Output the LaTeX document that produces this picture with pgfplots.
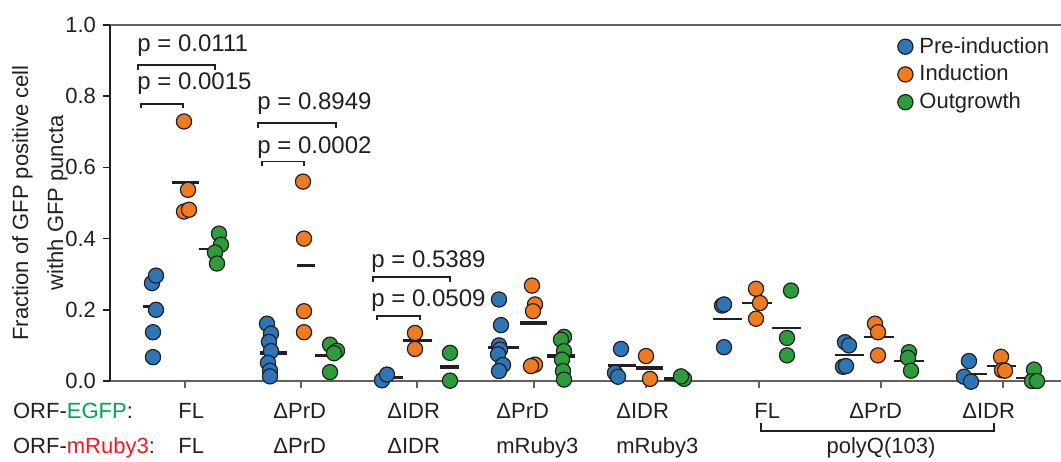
\documentclass[border=0pt]{standalone}
\usepackage{fontspec}
\setmainfont{Liberation Sans}
\usepackage{pgfplots}
\pgfplotsset{compat=1.18}
\definecolor{dark}{RGB}{35,31,32}
\definecolor{axgray}{RGB}{100,95,90}
\definecolor{cblue}{RGB}{46,117,182}
\definecolor{corange}{RGB}{240,122,32}
\definecolor{cgreen}{RGB}{46,156,60}
\definecolor{egfp}{RGB}{0,166,81}
\definecolor{mruby}{RGB}{237,28,36}
\newcommand{\fs}{\fontsize{11}{13}\selectfont}
\newcommand{\fp}{\fontsize{12}{14}\selectfont}
\begin{document}
\begin{tikzpicture}
\begin{axis}[
  at={(55pt,40pt)}, anchor=south west,
  scale only axis, width=475.5pt, height=178pt,
  xmin=110, xmax=1061, ymin=0, ymax=1,
  clip=false,
  axis x line=box, axis y line=left,
  x axis line style={draw=axgray, line width=1pt, -},
  y axis line style={draw=dark, line width=1pt, -},
  xtick={185,301,417,534,646,759,881,1003}, xticklabels={},
  xtick pos=left, ytick pos=left,
  ytick={0,0.2,0.4,0.6,0.8,1.0},
  tick align=outside,
  major tick length=3.5pt,
  xtick style={draw=axgray, line width=0.8pt},
  ytick style={draw=dark, line width=0.8pt},
  /pgf/number format/assume math mode=true,
  yticklabel style={/pgf/number format/.cd, fixed, fixed zerofill, precision=1},
  tick label style={font=\fs, color=dark},
  legend style={draw=none, fill=none, at={(axis cs:897,0.978)}, anchor=north west,
    font=\fs, text=dark, inner sep=0pt, row sep=0.4pt},
  legend cell align=left,
  dot/.style={only marks, mark=*, mark size=3.8pt,
    mark options={draw=dark, line width=0.6pt, fill=#1},
    legend image code/.code={\draw[##1] plot coordinates {(4pt,0pt)}; \path[draw=none, fill=none] (0pt,0pt) rectangle (9pt,0.1pt);}},
  mthick/.style={draw=dark, line width=1.7pt, forget plot},
  mthin/.style={draw=dark, line width=1pt, forget plot},
]
% ---- means (drawn below dots) ----
\addplot[mthick] coordinates {(143,0.21) (162,0.21)};
\addplot[mthick] coordinates {(172,0.557) (199,0.557)};
\addplot[mthin] coordinates {(199,0.372) (215,0.372)};
\addplot[mthick] coordinates {(260,0.079) (287,0.079)};
\addplot[mthick] coordinates {(297,0.325) (315,0.325)};
\addplot[mthick] coordinates {(315,0.072) (333,0.072)};
\addplot[mthick] coordinates {(387,0.009) (403,0.009)};
\addplot[mthick] coordinates {(403,0.113) (432,0.113)};
\addplot[mthick] coordinates {(440,0.039) (459,0.039)};
\addplot[mthick] coordinates {(488,0.094) (519,0.094)};
\addplot[mthick] coordinates {(520,0.163) (547,0.163)};
\addplot[mthick] coordinates {(547,0.070) (575,0.070)};
\addplot[mthick] coordinates {(608,0.043) (636,0.043)};
\addplot[mthick] coordinates {(636,0.037) (663,0.037)};
\addplot[mthick] coordinates {(664,0.006) (682,0.006)};
\addplot[mthin] coordinates {(713,0.174) (742,0.174)};
\addplot[mthin] coordinates {(742,0.218) (772,0.218)};
\addplot[mthin] coordinates {(772,0.148) (801,0.148)};
\addplot[mthin] coordinates {(835,0.072) (864,0.072)};
\addplot[mthin] coordinates {(864,0.124) (894,0.124)};
\addplot[mthin] coordinates {(894,0.057) (924,0.057)};
\addplot[mthin] coordinates {(958,0.020) (987,0.020)};
\addplot[mthin] coordinates {(987,0.041) (1016,0.041)};
\addplot[mthin] coordinates {(1016,0.008) (1035,0.008)};
% ---- group 1 ----
\addplot[dot=cblue] coordinates {(152,0.275) (156,0.296) (156,0.200) (153,0.137) (153,0.067)};
\addlegendentry{Pre-induction}
\addplot[dot=corange] coordinates {(184,0.729) (188,0.537) (184,0.476) (189,0.481)};
\addlegendentry{Induction}
\addplot[dot=cgreen] coordinates {(219,0.414) (221,0.383) (215,0.361) (217,0.330)};
\addlegendentry{Outgrowth}
% ---- group 2 ----
\addplot[dot=cblue, forget plot] coordinates {(267,0.161) (271,0.133) (269,0.110) (271,0.084) (268,0.051) (270,0.029) (270,0.013)};
\addplot[dot=corange, forget plot] coordinates {(303,0.560) (304,0.400) (304,0.196) (304,0.137)};
\addplot[dot=cgreen, forget plot] coordinates {(330,0.102) (337,0.085) (334,0.078) (330,0.025)};
% ---- group 3 ----
\addplot[dot=cblue, forget plot] coordinates {(382,0.002) (387,0.018)};
\addplot[dot=corange, forget plot] coordinates {(415,0.135) (415,0.090)};
\addplot[dot=cgreen, forget plot] coordinates {(450,0.079) (450,0.001)};
% ---- group 4 ----
\addplot[dot=cblue, forget plot] coordinates {(499,0.229) (501,0.157) (499,0.100) (500,0.088) (498,0.075) (503,0.045) (499,0.028)};
\addplot[dot=corange, forget plot] coordinates {(532,0.268) (535,0.215) (533,0.196) (535,0.046) (531,0.042)};
\addplot[dot=cgreen, forget plot] coordinates {(564,0.124) (561,0.116) (564,0.084) (562,0.060) (563,0.028) (564,0.004)};
% ---- group 5 ----
\addplot[dot=cblue, forget plot] coordinates {(621,0.090) (615,0.023) (618,0.012)};
\addplot[dot=corange, forget plot] coordinates {(646,0.070) (650,0.006)};
\addplot[dot=cgreen, forget plot] coordinates {(684,0.006) (681,0.013)};
% ---- group 6 ----
\addplot[dot=cblue, forget plot] coordinates {(722,0.212) (724,0.215) (724,0.095)};
\addplot[dot=corange, forget plot] coordinates {(756,0.259) (760,0.219) (756,0.175)};
\addplot[dot=cgreen, forget plot] coordinates {(791,0.254) (787,0.121) (787,0.072)};
% ---- group 7 ----
\addplot[dot=cblue, forget plot] coordinates {(845,0.109) (849,0.100) (843,0.040) (846,0.042)};
\addplot[dot=corange, forget plot] coordinates {(875,0.161) (878,0.137) (878,0.072)};
\addplot[dot=cgreen, forget plot] coordinates {(909,0.081) (908,0.065) (911,0.029)};
% ---- group 8 ----
\addplot[dot=cblue, forget plot] coordinates {(969,0.056) (964,0.012) (971,-0.002)};
\addplot[dot=corange, forget plot] coordinates {(1001,0.068) (1002,0.030) (1005,0.029)};
\addplot[dot=cgreen, forget plot] coordinates {(1034,0.032) (1032,0.000) (1037,0.000)};
\end{axis}
% ---- annotations in image-pixel coordinates ----
\begin{scope}[x=0.5pt, y=-0.5pt, shift={(0pt,230.5pt)}]
  \begin{scope}[draw=dark, line width=0.8pt]
    \draw (138,70) -- (138,65) -- (215,65) -- (215,70);
    \draw (141,108.5) -- (141,104) -- (183,104) -- (183,108.5);
    \draw (258,128) -- (258,123.3) -- (336,123.3) -- (336,128);
    \draw (262,166) -- (262,161.7) -- (304,161.7) -- (304,166);
    \draw (373,282) -- (373,277.3) -- (450,277.3) -- (450,282);
    \draw (377,320.5) -- (377,316) -- (420,316) -- (420,320.5);
    \draw (761,423) -- (761,431) -- (994,431) -- (994,423);
  \end{scope}
  \begin{scope}[every node/.style={inner sep=0pt, anchor=base west, text=dark, font=\fp}]
    \node at (137,51.7) {p = 0.0111};
    \node at (137,90) {p = 0.0015};
    \node at (257,110) {p = 0.8949};
    \node at (257,153.3) {p = 0.0002};
    \node at (371,267.3) {p = 0.5389};
    \node at (371,306.7) {p = 0.0509};
  \end{scope}
  \begin{scope}[every node/.style={inner sep=0pt, anchor=base west, text=dark, font=\fs}]
    \node at (12.7,418) {ORF-\textcolor{egfp}{EGFP}:};
    \node at (12.7,453.5) {ORF-\textcolor{mruby}{mRuby3}:};
    \node at (178,418) {FL};
    \node at (273,418) {ΔPrD};
    \node at (387,418) {ΔIDR};
    \node at (496,418) {ΔPrD};
    \node at (616,418) {ΔIDR};
    \node at (754,418) {FL};
    \node at (849,418) {ΔPrD};
    \node at (962,418) {ΔIDR};
    \node at (178,453.5) {FL};
    \node at (273,453.5) {ΔPrD};
    \node at (387,453.5) {ΔIDR};
    \node at (496,453.5) {mRuby3};
    \node at (616,453.5) {mRuby3};
    \node[anchor=base] at (881,453.5) {polyQ(103)};
    \node[anchor=base, rotate=90] at (28,203) {Fraction of GFP positive cell};
    \node[anchor=base, rotate=90] at (63,203) {withh GFP puncta};
  \end{scope}
\end{scope}
\pgfresetboundingbox
\useasboundingbox (0,0) rectangle (530.5pt,230.5pt);
\end{tikzpicture}
\end{document}
